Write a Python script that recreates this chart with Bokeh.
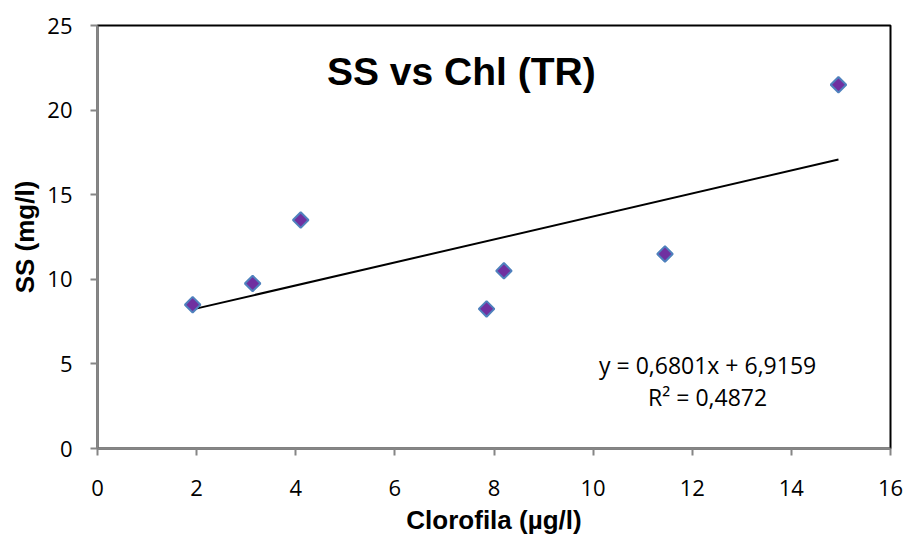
import math
from bokeh.plotting import figure
from bokeh.models import Range1d, FixedTicker, Label
from bokeh.embed import file_html
from bokeh.resources import INLINE

# Data
chl = [1.92, 3.13, 4.10, 7.85, 8.20, 11.45, 14.95]
ss = [8.5, 9.75, 13.5, 8.25, 10.5, 11.5, 21.5]
slope = 0.6801
intercept = 6.9159
r2 = 0.4872
x_ticks = [0, 2, 4, 6, 8, 10, 12, 14, 16]
y_ticks = [0, 5, 10, 15, 20, 25]
title_text = "SS vs Chl (TR)"
x_label = "Clorofila (µg/l)"
y_label = "SS (mg/l)"
eq_text = "y = 0,6801x + 6,9159"
r2_text = "R² = 0,4872"

p = figure(width=905, height=537, output_backend="svg", toolbar_location=None,
           x_range=Range1d(0, 16), y_range=Range1d(0, 25),
           min_border_left=97, min_border_right=15, min_border_top=25, min_border_bottom=88)
p.grid.visible = False
p.outline_line_color = "black"
p.outline_line_width = 2
p.background_fill_color = "white"
p.border_fill_color = "white"

for ax in (p.xaxis[0], p.yaxis[0]):
    ax.axis_line_color = "#868686"
    ax.axis_line_width = 2
    ax.major_tick_line_color = "#868686"
    ax.major_tick_line_width = 2
    ax.major_tick_out = 7
    ax.major_tick_in = 0
    ax.minor_tick_line_color = None
    ax.major_label_text_font = "Open Sans"
    ax.major_label_text_font_size = "22px"
    ax.major_label_text_color = "black"
    ax.axis_label_text_font = "Liberation Sans"
    ax.axis_label_text_font_style = "bold"
    ax.axis_label_text_font_size = "26px"
    ax.axis_label_text_color = "black"

p.xaxis.ticker = FixedTicker(ticks=x_ticks)
p.yaxis.ticker = FixedTicker(ticks=y_ticks)
p.xaxis.axis_label = x_label
p.yaxis.axis_label = y_label
p.xaxis.major_label_standoff = 24
p.yaxis.major_label_standoff = 18
p.xaxis.axis_label_standoff = 6
p.yaxis.axis_label_standoff = 4

# trendline
x0, x1 = min(chl), max(chl)
p.line([x0, x1], [slope * x0 + intercept, slope * x1 + intercept], line_color="black", line_width=2)

# points
p.scatter(chl, ss, marker="square", angle=math.pi / 4, size=11,
          fill_color="#7030A0", line_color="#4F81BD", line_width=2)

p.add_layout(Label(x=7.34, y=22.3, text=title_text, text_font="Liberation Sans",
                   text_font_style="bold", text_font_size="39px", text_align="center",
                   text_baseline="middle", text_color="black"))
p.add_layout(Label(x=12.31, y=4.94, text=eq_text, text_font="Open Sans",
                   text_font_size="23px", text_align="center", text_baseline="middle",
                   text_color="black"))
p.add_layout(Label(x=12.31, y=3.06, text=r2_text, text_font="Open Sans",
                   text_font_size="23px", text_align="center", text_baseline="middle",
                   text_color="black"))

open("out.html", "w").write(file_html(p, INLINE))
